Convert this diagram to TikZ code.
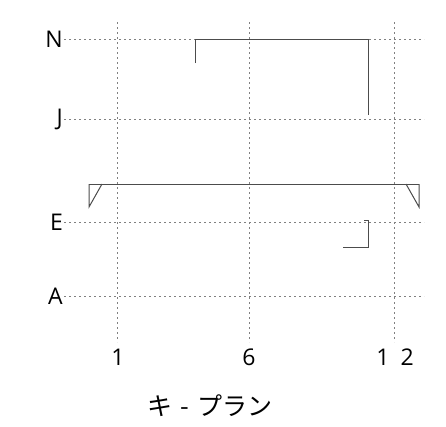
\documentclass[tikz,border=0pt]{standalone}
\usepackage{fontspec}
\setmainfont{Open Sans}
\newfontfamily\jpfont{Noto Sans CJK JP}
\usetikzlibrary{positioning}

\begin{document}
\begin{tikzpicture}[x=1pt,y=-1pt,
  gridline/.style={black!50,line width=1pt,dash pattern=on 2pt off 3pt},
  wall/.style={black!70,line width=1pt},
  axislabel/.style={font=\fontsize{23}{23}\selectfont,inner sep=1pt}]
\useasboundingbox (0,0) rectangle (446,426);
% row labels and their grid lines
\node[axislabel,anchor=east] (n) at (64,39) {N};
\node[axislabel,anchor=east] (j) at (64,119) {J};
\node[axislabel,anchor=east] (e) at (64,222) {E};
\node[axislabel,anchor=east] (a) at (64,296) {A};
\coordinate (n end) at (424,39);
\coordinate (j end) at (424,119);
\coordinate (e end) at (424,222);
\coordinate (a end) at (424,296);
\draw[gridline] (n.east) -- (n end);
\draw[gridline] (j.east) -- (j end);
\draw[gridline] (e.east) -- (e end);
\draw[gridline] (a.east) -- (a end);
% column labels and their grid lines
\node[axislabel] (c1) at (118,357) {1};
\node[axislabel] (c6) at (249,357) {6};
\node[axislabel] (c12) at (395,357) {1\hspace{11pt}2};
\coordinate (c1 top) at (117,22);
\coordinate (c6 top) at (249,22);
\coordinate (c12 top) at (394,22);
\coordinate (c1 bottom) at (117,342);
\coordinate (c6 bottom) at (249,342);
\coordinate (c12 bottom) at (394,342);
\draw[gridline] (c1 top) -- (c1 bottom);
\draw[gridline] (c6 top) -- (c6 bottom);
\draw[gridline] (c12 top) -- (c12 bottom);
% walls
\draw[wall] (195,63) -- (195,39) -- (368,39) -- (368,115);
\draw[wall] (89,184) -- (419,184);
\draw[wall] (102,184) -- (89,207) -- (89,184);
\draw[wall] (406,184) -- (419,207) -- (419,184);
\draw[wall] (364,220) -- (368,220) -- (368,247) -- (343,247);
% title
\node[font=\jpfont\fontsize{25}{25}\selectfont] (title) at (210,406) {キ\hspace{8pt}-\hspace{8pt}プラン};
\end{tikzpicture}
\end{document}
